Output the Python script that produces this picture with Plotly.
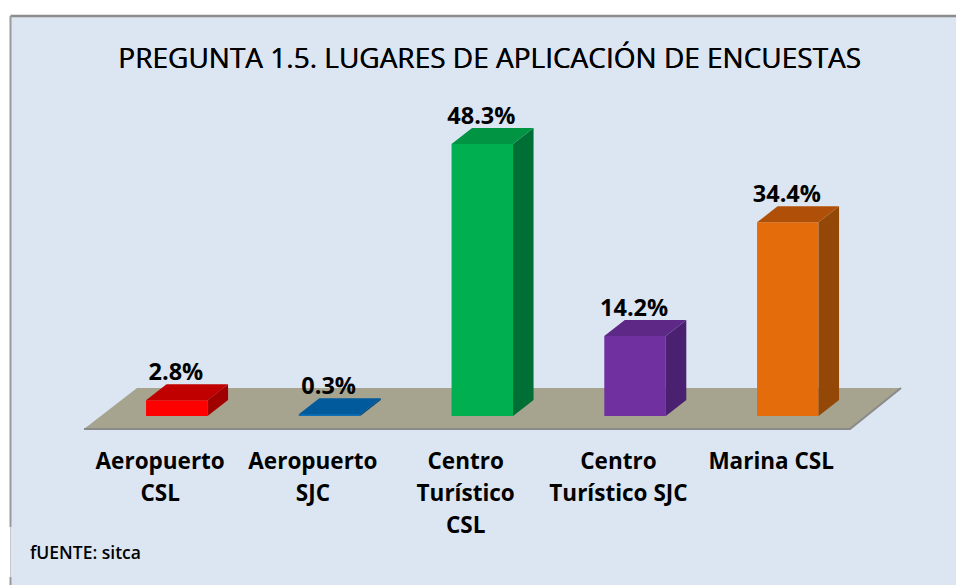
import plotly.graph_objects as go

title_text = "PREGUNTA 1.5. LUGARES DE APLICACIÓN DE ENCUESTAS"
source_text = "fUENTE: sitca"
categories = ["Aeropuerto CSL", "Aeropuerto SJC", "Centro Turístico CSL", "Centro Turístico SJC", "Marina CSL"]
label_row1 = ["Aeropuerto", "Aeropuerto", "Centro", "Centro", "Marina CSL"]
label_row2 = ["CSL", "SJC", "Turístico", "Turístico SJC", ""]
label_row3 = ["", "", "CSL", "", ""]
values = [2.8, 0.3, 48.3, 14.2, 34.4]
front_colors = ["#FF0000", "#0F6FB5", "#00B050", "#7030A0", "#E46C0A"]
top_colors = ["#C00000", "#005A9C", "#009443", "#5E2886", "#B05008"]
side_colors = ["#A00000", "#00497F", "#006F35", "#4A2070", "#934808"]

W, H = 956, 585
STEP = 152.75      # px per category
X0 = 176.8         # px of first category
Y0 = 416           # px of value 0
UNIT = 5.63        # px per percentage point

# depth of the pseudo-3D projection, in data units
DX = 20.5 / STEP
DY = 16 / UNIT
BAR_W = 61.5 / STEP
HALF = BAR_W / 2
LABEL_SHIFT = -16.6 / STEP
xs = list(range(len(values)))


def px_x(p):
    return (p - X0) / STEP


def px_y(p):
    return (Y0 - p) / UNIT


fig = go.Figure()

# front faces
fig.add_trace(go.Bar(x=xs, y=values, width=BAR_W, marker=dict(color=front_colors, line=dict(width=0)),
                     hoverinfo="x+y", showlegend=False))

# side and top faces, projected from the values
for x, v, tc, sc in zip(xs, values, top_colors, side_colors):
    right = x + HALF
    left = x - HALF
    fig.add_trace(go.Scatter(x=[right, right + DX, right + DX, right, right],
                             y=[0, DY, v + DY, v, 0], mode="lines", fill="toself",
                             fillcolor=sc, line=dict(width=0, color=sc), hoverinfo="skip", showlegend=False))
    fig.add_trace(go.Scatter(x=[left, left + DX, right + DX, right, left],
                             y=[v, v + DY, v + DY, v, v], mode="lines", fill="toself",
                             fillcolor=tc, line=dict(width=0, color=tc), hoverinfo="skip", showlegend=False))

# value labels
fig.add_trace(go.Scatter(x=[x - 0.006 for x in xs], y=[v + DY - 0.35 for v in values], mode="text",
                         text=[f"{v:.1f}%" for v in values], textposition="top center",
                         textfont=dict(family="Open Sans", size=23.5, color="#000000", weight="bold"),
                         hoverinfo="skip", showlegend=False))

# category labels, with the wide line spacing of the original
for row, py in zip((label_row1, label_row2, label_row3), (463.5, 495.5, 527.5)):
    fig.add_trace(go.Scatter(x=[x + LABEL_SHIFT for x in xs], y=[px_y(py)] * len(xs), mode="text", text=row,
                             textposition="middle center",
                             textfont=dict(family="Open Sans", size=22.5, color="#000000", weight="bold"),
                             hoverinfo="skip", showlegend=False))

shapes = [
    dict(type="rect", xref="paper", yref="paper", x0=11 / W, x1=1, y0=0, y1=1 - 16 / H,
         fillcolor="#DCE6F2", line=dict(width=0), layer="below"),
    dict(type="path", xref="x", yref="y", layer="below", fillcolor="#A6A48F", line=dict(width=0),
         path=f"M {px_x(84)} {px_y(429)} L {px_x(850)} {px_y(429)} L {px_x(901)} {px_y(388)} L {px_x(137)} {px_y(388)} Z"),
    dict(type="path", xref="x", yref="y", layer="below", line=dict(width=2, color="#8A8A8A"),
         path=f"M {px_x(84)} {px_y(429)} L {px_x(850)} {px_y(429)} L {px_x(901)} {px_y(388)}"),
    dict(type="line", xref="paper", yref="paper", x0=10.5 / W, x1=1, y0=1 - 16 / H, y1=1 - 16 / H,
         line=dict(width=2.5, color="#8C8C8C"), layer="below"),
    dict(type="line", xref="paper", yref="paper", x0=10.5 / W, x1=10.5 / W, y0=1 - 16 / H, y1=1 - 527 / H,
         line=dict(width=2, color="#9A9A9A"), layer="below"),
    dict(type="line", xref="paper", yref="paper", x0=10.5 / W, x1=10.5 / W, y0=1 - 527 / H, y1=1 - 577 / H,
         line=dict(width=1, color="#C4C8CC"), layer="below"),
    dict(type="line", xref="paper", yref="paper", x0=10.5 / W, x1=10.5 / W, y0=1 - 577 / H, y1=0,
         line=dict(width=2, color="#9A9A9A"), layer="below"),
]

fig.update_layout(
    width=W, height=H, autosize=False,
    margin=dict(l=0, r=0, t=0, b=0),
    paper_bgcolor="#FFFFFF", plot_bgcolor="rgba(0,0,0,0)",
    showlegend=False, shapes=shapes, barmode="overlay",
    title=dict(text=title_text, x=489.5 / W, y=1 - 58 / H, xanchor="center", yanchor="middle",
               xref="paper", yref="paper",
               font=dict(family="Open Sans", size=28, color="#000000", weight="normal",
                         shadow="0.5px 0 0 #000000")),
    xaxis=dict(range=[px_x(0), px_x(W)], visible=False, fixedrange=True),
    yaxis=dict(range=[px_y(H), px_y(0)], visible=False, fixedrange=True),
    annotations=[dict(text=source_text, xref="paper", yref="paper", x=27.5 / W, y=1 - 552 / H,
                      xanchor="left", yanchor="middle", showarrow=False,
                      font=dict(family="Open Sans", size=17.5, color="#000000", weight=600))],
)

fig.write_html("out.html", config=dict(displayModeBar=False),
               post_script="document.body.style.margin='0';document.body.style.overflow='hidden';")
